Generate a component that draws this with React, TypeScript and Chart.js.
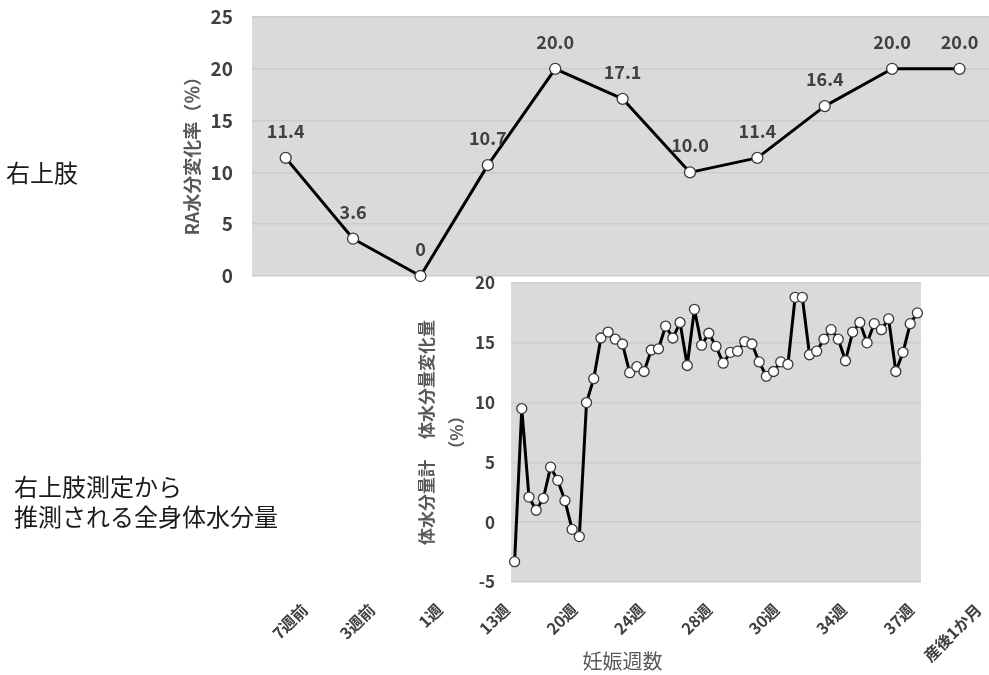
import { useEffect, useRef } from "react";
import { Chart, registerables } from "chart.js";

Chart.register(...registerables);

// Categories shared by the upper chart (pregnancy stage)
const weekLabels = ["7週前", "3週前", "1週", "13週", "20週", "24週", "28週", "30週", "34週", "37週", "産後1か月"];

// Right arm water change rate (%)
const raChangeRate = [11.4, 3.6, 0, 10.7, 20.0, 17.1, 10.0, 11.4, 16.4, 20.0, 20.0];
const raTickValues = [0, 5, 10, 15, 20, 25];

// Whole-body water estimated from the right arm measurement (%), one value per measurement
const bodyWaterChange = [
  -3.3, 9.5, 2.1, 1.0, 2.0, 4.6, 3.5, 1.8, -0.6, -1.2,
  10.0, 12.0, 15.4, 15.9, 15.3, 14.9, 12.5, 13.0, 12.6, 14.4,
  14.5, 16.4, 15.4, 16.7, 13.1, 17.8, 14.8, 15.8, 14.7, 13.3,
  14.2, 14.3, 15.1, 14.9, 13.4, 12.2, 12.6, 13.4, 13.2, 18.8,
  18.8, 14.0, 14.3, 15.3, 16.1, 15.3, 13.5, 15.9, 16.7, 15.0,
  16.6, 16.1, 17.0, 12.6, 14.2, 16.6, 17.5,
];
const bodyWaterTickValues = [-5, 0, 5, 10, 15, 20];

const FONT = "'Noto Sans CJK JP', 'Noto Sans', sans-serif";
const PLOT_BG = "#dadada";
const GRID = "#cccccc";
const TICK_COLOR = "#404040";
const TITLE_COLOR = "#595959";

const formatRate = (v: number) => (v === 0 ? "0" : v.toFixed(1));

const upperDecor = {
  id: "upperDecor",
  beforeDraw(chart: any) {
    const { ctx, chartArea, scales } = chart;
    const y = scales.y;
    const top = y.getPixelForValue(raTickValues[raTickValues.length - 1]);
    const bottom = y.getPixelForValue(raTickValues[0]);
    ctx.save();
    ctx.fillStyle = PLOT_BG;
    ctx.fillRect(chartArea.left, top, chartArea.right - chartArea.left, bottom - top);
    ctx.translate(chartArea.left - 60, (top + bottom) / 2 + 5);
    ctx.rotate(-Math.PI / 2);
    ctx.font = `bold 18px ${FONT}`;
    ctx.fillStyle = TITLE_COLOR;
    ctx.textAlign = "center";
    ctx.textBaseline = "middle";
    ctx.fillText("RA水分変化率（％）", 0, 0);
    ctx.restore();
  },
  afterDatasetsDraw(chart: any) {
    const { ctx } = chart;
    const meta = chart.getDatasetMeta(0);
    ctx.save();
    ctx.font = `bold 18px ${FONT}`;
    ctx.fillStyle = TICK_COLOR;
    ctx.textAlign = "center";
    ctx.textBaseline = "middle";
    meta.data.forEach((pt: any, i: number) => {
      ctx.fillText(formatRate(raChangeRate[i]), pt.x, pt.y - 27);
    });
    ctx.restore();
  },
};

const lowerDecor = {
  id: "lowerDecor",
  beforeDraw(chart: any) {
    const { ctx, chartArea } = chart;
    ctx.save();
    ctx.fillStyle = PLOT_BG;
    ctx.fillRect(chartArea.left, chartArea.top, chartArea.right - chartArea.left, chartArea.bottom - chartArea.top);
    ctx.restore();
  },
};

export default function App() {
  const upperRef = useRef<HTMLCanvasElement>(null);
  const lowerRef = useRef<HTMLCanvasElement>(null);

  useEffect(() => {
    document.body.style.margin = "0";
    const upper = new Chart(upperRef.current!, {
      type: "line",
      data: {
        labels: weekLabels,
        datasets: [
          {
            data: raChangeRate,
            borderColor: "#000000",
            borderWidth: 3,
            borderJoinStyle: "round",
            tension: 0,
            pointRadius: 5.5,
            pointBackgroundColor: "#ffffff",
            pointBorderColor: "#3a3a3a",
            pointBorderWidth: 1.3,
          },
        ],
      },
      options: {
        responsive: false,
        animation: false,
        devicePixelRatio: 1,
        layout: { padding: { top: 17, left: 0, right: 5.5, bottom: 0 } },
        plugins: { legend: { display: false }, tooltip: { enabled: false } },
        scales: {
          x: {
            type: "category",
            offset: true,
            grid: { display: false },
            border: { display: false },
            ticks: {
              autoSkip: false,
              minRotation: 45,
              maxRotation: 45,
              labelOffset: 19,
              padding: 0,
              color: TICK_COLOR,
              font: { family: FONT, size: 16, weight: "bold" },
            },
            title: {
              display: true,
              text: "妊娠週数",
              color: TITLE_COLOR,
              font: { family: FONT, size: 20 },
              padding: { top: 4, bottom: 2 },
            },
            afterFit(scale: any) {
              scale.height = 83;
            },
          },
          y: {
            min: -30.5,
            max: 25,
            afterBuildTicks(scale: any) {
              scale.ticks = raTickValues.map((v) => ({ value: v }));
            },
            grid: { color: GRID, drawTicks: false, lineWidth: 1.5 },
            border: { display: false },
            ticks: {
              padding: 19,
              color: TICK_COLOR,
              font: { family: FONT, size: 19, weight: "bold" },
            },
            afterFit(scale: any) {
              scale.width = 252;
              scale.paddingTop = 0;
              scale.paddingBottom = 0;
            },
          },
        },
      },
      plugins: [upperDecor],
    });

    const lower = new Chart(lowerRef.current!, {
      type: "line",
      data: {
        labels: bodyWaterChange.map((_, i) => String(i + 1)),
        datasets: [
          {
            data: bodyWaterChange,
            borderColor: "#000000",
            borderWidth: 3,
            borderJoinStyle: "round",
            tension: 0,
            pointRadius: 5,
            pointBackgroundColor: "#ffffff",
            pointBorderColor: "#3a3a3a",
            pointBorderWidth: 1.3,
          },
        ],
      },
      options: {
        responsive: false,
        animation: false,
        devicePixelRatio: 1,
        layout: { padding: { top: 283, left: 400, right: 68, bottom: 93 } },
        plugins: { legend: { display: false }, tooltip: { enabled: false } },
        scales: {
          x: { type: "category", offset: true, display: false },
          y: {
            min: -5,
            max: 20,
            afterBuildTicks(scale: any) {
              scale.ticks = bodyWaterTickValues.map((v) => ({ value: v }));
            },
            grid: { color: GRID, drawTicks: false, lineWidth: 1.5 },
            border: { display: false },
            ticks: {
              padding: 16,
              color: TICK_COLOR,
              font: { family: FONT, size: 17, weight: "bold" },
            },
            title: {
              display: true,
              text: ["体水分量計　 体水分量変化量", "（%）"],
              color: TITLE_COLOR,
              font: { family: FONT, size: 17, weight: "bold", lineHeight: 1.75 },
              padding: { top: 12, bottom: 0 },
            },
            afterFit(scale: any) {
              scale.width = 111;
            },
          },
        },
      },
      plugins: [lowerDecor],
    });

    return () => {
      upper.destroy();
      lower.destroy();
    };
  }, []);

  const noteStyle: any = {
    position: "absolute",
    fontFamily: FONT,
    fontSize: 24,
    color: "#1a1a1a",
    lineHeight: "30px",
    whiteSpace: "nowrap",
  };

  return (
    <div
      style={{
        position: "fixed",
        left: 0,
        top: 0,
        width: 989,
        height: 675,
        overflow: "hidden",
        background: "#ffffff",
      }}
    >
      <canvas
        ref={upperRef}
        width={1000}
        height={675}
        style={{ position: "absolute", left: 0, top: 0, width: 1000, height: 675 }}
      />
      <canvas
        ref={lowerRef}
        width={989}
        height={675}
        style={{ position: "absolute", left: 0, top: 0, width: 989, height: 675 }}
      />
      <div style={{ ...noteStyle, left: 6, top: 157 }}>右上肢</div>
      <div style={{ ...noteStyle, left: 14, top: 471 }}>
        右上肢測定から
        <br />
        推測される全身体水分量
      </div>
    </div>
  );
}
